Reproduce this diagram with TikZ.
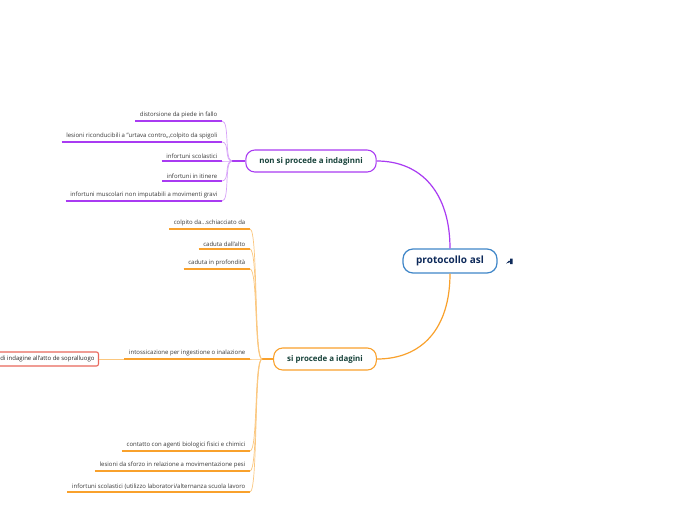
\documentclass[tikz,border=0pt]{standalone}
\usepackage{fontspec}
\setmainfont{Open Sans}
\definecolor{rootblu}{HTML}{3F86C8}
\definecolor{rootnavy}{HTML}{0E2A5A}
\definecolor{ramotxt}{HTML}{17423A}
\definecolor{viola}{HTML}{A93BF2}
\definecolor{violachiaro}{HTML}{D7A2F8}
\definecolor{arancio}{HTML}{F9A12C}
\definecolor{aranciochiaro}{HTML}{FBC77E}
\definecolor{rosso}{HTML}{E8675C}
\begin{document}
\begin{tikzpicture}[x=1pt,y=-1pt,
	radice/.style={draw=rootblu,fill=white,line width=1.2pt,rounded corners=10pt,minimum width=94pt,minimum height=24pt,font=\fontsize{10}{12}\selectfont\bfseries,text=rootnavy},
	ramo/.style={draw=#1,fill=white,line width=1.1pt,rounded corners=9pt,minimum height=22pt,inner xsep=13.5pt,font=\fontsize{7.9}{9}\selectfont\bfseries,text=ramotxt},
	foglia/.style={anchor=south east,inner xsep=4.5pt,inner ysep=2.5pt,font=\fontsize{6}{7}\selectfont,text=black!78},
	sotto/.style={draw=#1,line width=1.6pt},
	curva/.style={draw=#1,line width=0.7pt}]
	\useasboundingbox[fill=white](0,0)rectangle(696,520);
	% radice e rami principali
	\node[radice] (root) at (450,261) {protocollo asl};
	\node[ramo=viola] (nonproc) at (311,161) {non si procede a indaginni};
	\node[ramo=arancio] (siproc) at (325,359) {si procede a idagini};
	\draw[viola,line width=1.2pt] (root.north) .. controls +(0,-55) and +(45,0) .. (nonproc.east);
	\draw[arancio,line width=1.2pt] (root.south) .. controls +(0,55) and +(45,0) .. (siproc.east);
	\fill[rootnavy] (506,263.5)--(509,260.5)--(510.5,262)--cycle (510,258.5) rectangle (512.5,264);
	% rami viola
	\coordinate (jv) at (232,161);
	\draw[viola,line width=1.4pt] (nonproc.west)--(jv);
	\foreach \nome/\yy/\testo in {p1/121/{distorsione da piede in fallo},
		p2/142/{lesioni riconducibili a "urtava contro,,,colpito da spigoli},
		p3/161/{infortuni scolastici},
		p4/181/{infortuni in itinere},
		p5/201/{infortuni muscolari non imputabili a movimenti gravi}}{
		\node[foglia] (\nome) at (222,\yy) {\testo};
		\draw[sotto=viola] (\nome.south west)--(\nome.south east);
		\draw[curva=violachiaro] (jv) .. controls +(-8,0) and +(8,0) .. (\nome.south east);
	}
	% rami arancio
	\coordinate (ja) at (262,359);
	\draw[arancio,line width=1.4pt] (siproc.west)--(ja);
	\foreach \nome/\yy/\testo in {a1/229/{colpito da...schiacciato da},
		a2/249/{caduta dall'alto},
		a3/269/{caduta in profondità},
		a4/359/{intossicazione per ingestione o inalazione},
		a5/451/{contatto con agenti biologici fisici e chimici},
		a6/471/{lesioni da sforzo in relazione a movimentazione pesi},
		a7/492/{infortuni scolastici (utilizzo laboratori/alternanza scuola lavoro}}{
		\node[foglia] (\nome) at (250,\yy) {\testo};
		\draw[sotto=arancio] (\nome.south west)--(\nome.south east);
		\draw[curva=aranciochiaro] (ja) .. controls +(-8,0) and +(8,0) .. (\nome.south east);
	}
	\node[draw=rosso,fill=white,line width=1.1pt,rounded corners=2pt,anchor=east,inner xsep=4pt,minimum height=14pt,font=\fontsize{6}{7}\selectfont,text=black!85] (sopr) at (99,359) {di indagine all'atto de sopralluogo};
	\draw[curva=aranciochiaro] (a4.south west)--(sopr.east);
\end{tikzpicture}
\end{document}
